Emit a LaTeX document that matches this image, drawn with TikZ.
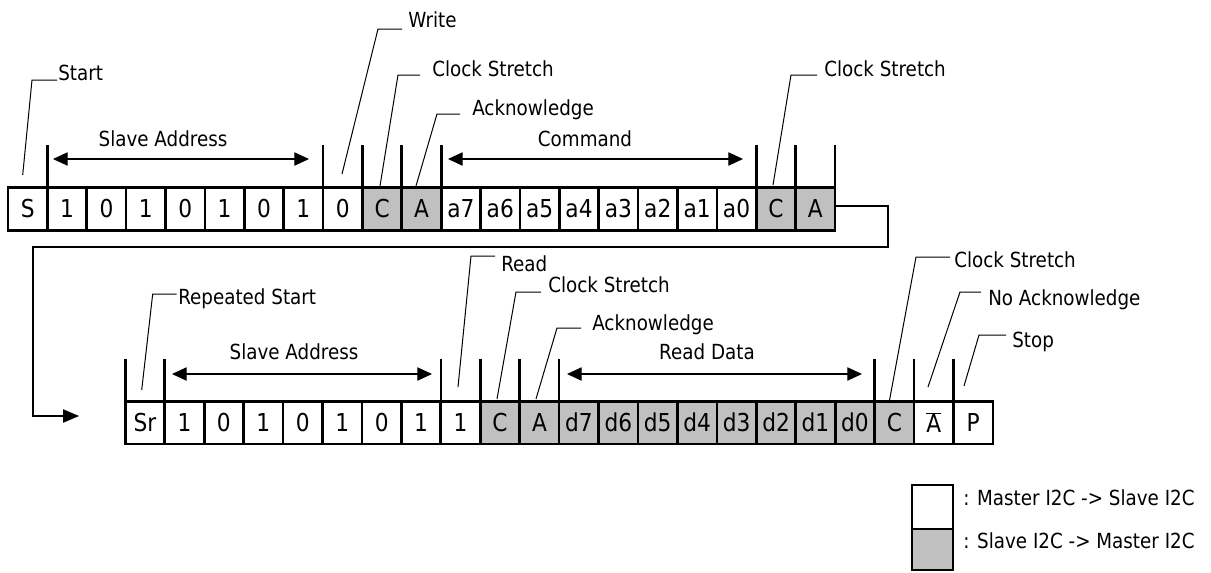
\documentclass[tikz,border=0pt]{standalone}
\usepackage{fontspec}
\setmainfont{DejaVu Sans}[FakeStretch=0.88]
\usetikzlibrary{arrows.meta}
\definecolor{cellgray}{HTML}{C0C0C0}
\def\nackA{$\overline{\mbox{A}}$}
\begin{document}
\begin{tikzpicture}[x=0.75pt,y=-0.75pt,
  cell/.style={draw,line width=2pt,inner sep=0pt,outer sep=0pt,
    minimum width=29.55pt,minimum height=32pt,
    font=\fontsize{18.5}{20}\selectfont},
  keybox/.style={draw,line width=2pt,inner sep=0pt,outer sep=0pt,minimum width=30.75pt},
  lbl/.style={inner sep=0pt,anchor=base west,font=\fontsize{15.6}{18}\selectfont},
  ctr/.style={inner sep=0pt,anchor=base,font=\fontsize{15.6}{18}\selectfont},
  lead/.style={line width=0.75pt},
  tick/.style={line width=2pt},
  span/.style={line width=0.8pt,{Triangle[length=11pt,width=10pt]}-{Triangle[length=11pt,width=10pt]}},
  wrap/.style={line width=0.8pt,-{Triangle[length=12pt,width=10pt]}}]
\useasboundingbox (0,0) rectangle (1211,572);

% ---------- top row ----------
\foreach \t/\f [count=\i from 0] in {S/white,1/white,0/white,1/white,0/white,1/white,0/white,1/white,0/white,C/cellgray,A/cellgray,a7/white,a6/white,a5/white,a4/white,a3/white,a2/white,a1/white,a0/white,C/cellgray,A/cellgray}
  \node[cell,fill=\f] (t\i) at ({8+(\i+0.5)*39.38},209) {\t};
\foreach \k in {1,8,9,10,11,19,20}
  \draw[tick] (t\k.north west) -- ++(0,-43);
\draw[tick] (t20.north east) -- ++(0,-43);

% ---------- bottom row ----------
\foreach \t/\f [count=\i from 0] in {Sr/white,1/white,0/white,1/white,0/white,1/white,0/white,1/white,1/white,C/cellgray,A/cellgray,d7/cellgray,d6/cellgray,d5/cellgray,d4/cellgray,d3/cellgray,d2/cellgray,d1/cellgray,d0/cellgray,C/cellgray,\nackA/white,P/white}
  \node[cell,fill=\f] (b\i) at ({125.3+(\i+0.5)*39.44},422.5) {\t};
\foreach \k in {0,1,8,9,10,11,19,20,21}
  \draw[tick] (b\k.north west) -- ++(0,-42);

% ---------- span arrows ----------
\node[ctr] (sa1) at (163,146) {Slave Address};
\coordinate (sa1l) at (53,159);  \coordinate (sa1r) at (309,159);
\draw[span] (sa1l) -- (sa1r);
\node[ctr] (cmd) at (585,146) {Command};
\coordinate (cmdl) at (448,159); \coordinate (cmdr) at (743,159);
\draw[span] (cmdl) -- (cmdr);
\node[ctr] (sa2) at (294,359) {Slave Address};
\coordinate (sa2l) at (172,374); \coordinate (sa2r) at (432,374);
\draw[span] (sa2l) -- (sa2r);
\node[ctr] (rd) at (707,359) {Read Data};
\coordinate (rdl) at (567,374); \coordinate (rdr) at (862,374);
\draw[span] (rdl) -- (rdr);

% ---------- leaders, top ----------
\node[lbl] (Lstart) at (58,80) {Start};
\coordinate (pS) at (22.7,175);
\draw[lead] (pS) -- (32,80) -- (57,80);
\node[lbl] (Lwrite) at (408,27) {Write};
\coordinate (pW) at (342,174);
\draw[lead] (pW) -- (378,29) -- (402,29);
\node[lbl] (Lcs1) at (432,76) {Clock Stretch};
\coordinate (pC1) at (380,186);
\draw[lead] (pC1) -- (398,75) -- (420,75);
\node[lbl] (Lack1) at (472,115) {Acknowledge};
\coordinate (pA1) at (416,186);
\draw[lead] (pA1) -- (437,114) -- (460,114);
\node[lbl] (Lcs2) at (824,76) {Clock Stretch};
\coordinate (pC2) at (773,185);
\draw[lead] (pC2) -- (791,75) -- (817,75);

% ---------- leaders, bottom ----------
\node[lbl] (Lrs) at (178,304) {Repeated Start};
\coordinate (pRS) at (141.7,390);
\draw[lead] (pRS) -- (152.7,294) -- (176.7,294);
\node[lbl] (Lread) at (501,271) {Read};
\coordinate (pR) at (458,387);
\draw[lead] (pR) -- (471,256) -- (495,256);
\node[lbl] (Lcs3) at (548,292) {Clock Stretch};
\coordinate (pC3) at (497,399);
\draw[lead] (pC3) -- (516,292) -- (541,292);
\node[lbl] (Lack2) at (592,330) {Acknowledge};
\coordinate (pA2) at (536,399);
\draw[lead] (pA2) -- (557,328) -- (581,328);
\node[lbl] (Lcs4) at (954,267) {Clock Stretch};
\coordinate (pC4) at (889,403);
\draw[lead] (pC4) -- (916,257) -- (950,257);
\node[lbl] (Lnack) at (988,305) {No Acknowledge};
\coordinate (pN) at (928,387);
\draw[lead] (pN) -- (960,292) -- (981,292);
\node[lbl] (Lstop) at (1012,347) {Stop};
\coordinate (pP) at (964,386);
\draw[lead] (pP) -- (979,335) -- (1006,335);

% ---------- wrap connector ----------
\coordinate (wrapEnd) at (79,416);
\draw[wrap] ([yshift=2.25pt]t20.east) -- (888,206) -- (888,247) -- (33,247) -- (33,416) -- (wrapEnd);

% ---------- legend ----------
\node[keybox,fill=white,minimum height=33pt] (k1) at (932.5,507) {};
\node[keybox,fill=cellgray,minimum height=30.75pt,anchor=north] (k2) at (k1.south) {};
\node[lbl] (kt1) at (963,505) {: Master I2C -> Slave I2C};
\node[lbl] (kt2) at (963,548) {: Slave I2C -> Master I2C};
\end{tikzpicture}
\end{document}
